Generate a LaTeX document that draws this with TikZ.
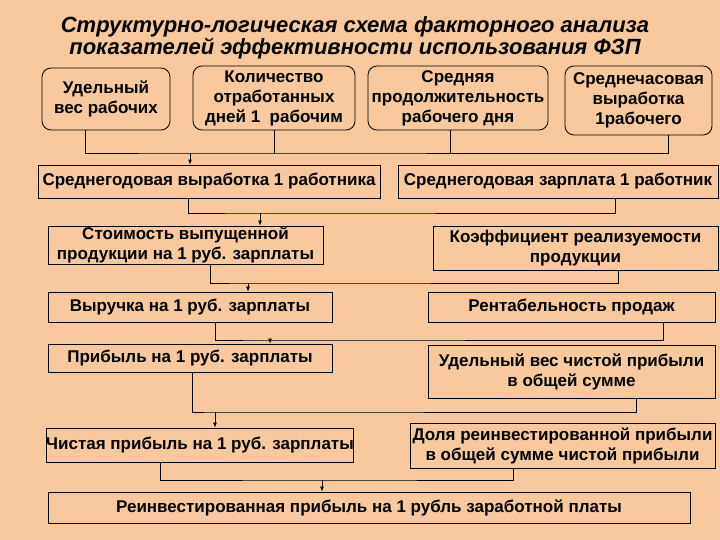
\documentclass[tikz,border=0pt]{standalone}
\usepackage{fontspec}
\setmainfont{Liberation Sans}
\definecolor{bg}{HTML}{F9C89C}
\newcommand{\bx}[7][]{\node[bx,#1,minimum width=#4pt-#2pt,minimum height=#5pt-#3pt] (#6) at ({(#2+#4)/2},{(#3+#5)/2}) {#7};}
\begin{document}
\begin{tikzpicture}[x=1pt,y=-1pt,
 bx/.style={draw,line width=0.8pt,inner sep=0pt,align=center,font=\bfseries\fontsize{17}{20}\selectfont},
 rb/.style={rounded corners=9pt},
 ln/.style={line width=0.8pt},
 ar/.style={line width=0.8pt,-{Latex[length=5pt,width=4pt]}}]
\usetikzlibrary{arrows.meta}
\fill[bg] (0,0) rectangle (720,540);
\useasboundingbox (0,0) rectangle (720,540);
\node[font=\bfseries\itshape\fontsize{22}{21}\selectfont,align=center] (t) at (355,38) {Структурно-логическая схема факторного анализа\\показателей эффективности использования ФЗП};
\bx[rb]{42}{68}{170}{130}{a}{Удельный\\вес рабочих}
\bx[rb]{193}{66}{355}{130}{b}{Количество\\отработанных\\дней 1~ рабочим}
\bx[rb]{368}{66}{548}{130}{c}{Средняя\\продолжительность\\рабочего дня}
\bx[rb]{565}{66}{712}{135}{d}{Среднечасовая\\выработка\\1рабочего}
\bx{38}{165}{380}{198}{e}{Среднегодовая выработка 1 работника}
\bx{398}{165}{718}{198}{f}{Среднегодовая зарплата 1 работник}
\bx{48}{226}{323}{264}{g}{Стоимость выпущенной\\продукции на 1 руб. зарплаты}
\bx{433}{226}{718}{270}{h}{Коэффициент реализуемости\\продукции}
\bx{48}{292}{332}{322}{i}{Выручка на 1 руб. зарплаты}
\bx{428}{292}{715}{322}{j}{Рентабельность продаж}
\bx{48}{344}{332}{372}{k}{Прибыль на 1 руб. зарплаты}
\bx{428}{345}{715}{398}{l}{Удельный вес чистой прибыли\\в общей сумме}
\bx{48}{428}{352}{462}{m}{Чистая прибыль на 1 руб. зарплаты}
\bx{410}{423}{715}{468}{n}{Доля реинвестированной прибыли\\в общей сумме чистой прибыли}
\bx{48}{492}{690}{523}{o}{Реинвестированная прибыль на 1 рубль заработной платы}
\coordinate (b1) at (190,153);
\draw[ln] (a.south -| 85,0) |- (b1) -| (d.south -| 668,0);
\draw[ln] (b.south) -- (b.south |- b1);
\draw[ln] (c.south -| 450,0) -- (450,153);
\draw[ar] (b1) -- (b1 |- e.north);
\coordinate (b2) at (260,213);
\draw[ln] (e.south -| 188,0) |- (b2) -| (f.south -| 615,0);
\draw[ar] (b2) -- (b2 |- g.north);
\coordinate (b3) at (248,283);
\draw[ln] (g.south -| 210,0) |- (b3) -| (h.south -| 618,0);
\draw[ar] (b3) -- (b3 |- i.north);
\coordinate (b4) at (270,340);
\draw[ln] (i.south -| 215,0) |- (b4) -| (j.south -| 663,0);
\draw[ar] (b4) -- (b4 |- k.north);
\coordinate (b5) at (215,412);
\draw[ln] (k.south -| 192,0) |- (b5) -| (l.south -| 636,0);
\draw[ar] (b5) -- (b5 |- m.north);
\coordinate (b6) at (322,480);
\draw[ln] (m.south -| 160,0) |- (b6) -| (n.south -| 513,0);
\draw[ar] (b6) -- (b6 |- o.north);
\end{tikzpicture}
\end{document}
